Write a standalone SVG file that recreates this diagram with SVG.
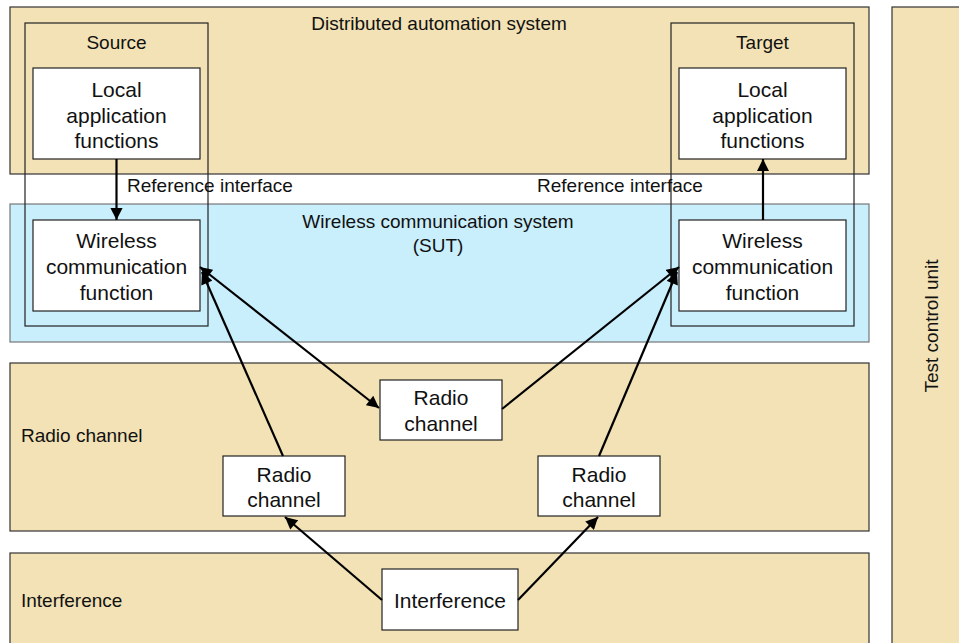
<svg xmlns="http://www.w3.org/2000/svg" width="959" height="643" viewBox="0 0 959 643">
<style>
.panel{fill:#f2e2b5;stroke:#333;stroke-width:1.2}
.blue{fill:#c9eefc;stroke:#777;stroke-width:1.2}
.frame{fill:none;stroke:#222;stroke-width:1.2}
.box{fill:#fff;stroke:#222;stroke-width:1.2}
.lbl{font-family:"Liberation Sans",Arial,sans-serif;font-size:19px;fill:#111}
.bt{font-family:"Liberation Sans",Arial,sans-serif;font-size:21px;fill:#111;text-anchor:middle}
.mid{text-anchor:middle}
.conn line{stroke:#000;stroke-width:2.2}
</style>
<defs>
<marker id="ah" viewBox="0 0 10 10" refX="10" refY="5" markerWidth="6" markerHeight="5.5" orient="auto-start-reverse" markerUnits="strokeWidth">
<path d="M0,0 L10,5 L0,10 z" fill="#000"/>
</marker>
</defs>
<g id="panel-das">
<rect class="panel" x="10" y="7" width="859" height="167"/>
<text class="lbl mid" x="439" y="30">Distributed automation system</text>
</g>
<g id="panel-wcs">
<rect class="blue" x="10" y="204" width="859" height="138"/>
<text class="lbl mid" x="438" y="228">Wireless communication system</text>
<text class="lbl mid" x="438" y="252">(SUT)</text>
</g>
<g id="panel-radio">
<rect class="panel" x="10" y="363" width="859" height="168"/>
<text class="lbl" x="21" y="442">Radio channel</text>
</g>
<g id="panel-interference">
<rect class="panel" x="10" y="553" width="859" height="100"/>
<text class="lbl" x="21" y="607">Interference</text>
</g>
<g id="panel-test">
<rect class="panel" x="892" y="7" width="80" height="650"/>
<text class="lbl mid" transform="translate(938,326) rotate(-90)">Test control unit</text>
</g>
<g id="source">
<rect class="frame" x="25" y="23" width="183" height="303"/>
<text class="lbl mid" x="116.5" y="49">Source</text>
</g>
<g id="target">
<rect class="frame" x="671" y="23" width="183" height="303"/>
<text class="lbl mid" x="762.5" y="49">Target</text>
</g>
<g id="src-local">
<rect class="box" x="33" y="68" width="167" height="91"/>
<text class="bt" x="116.5" y="97">Local</text>
<text class="bt" x="116.5" y="122.5">application</text>
<text class="bt" x="116.5" y="148">functions</text>
</g>
<g id="tgt-local">
<rect class="box" x="679" y="68" width="167" height="91"/>
<text class="bt" x="762.5" y="97">Local</text>
<text class="bt" x="762.5" y="122.5">application</text>
<text class="bt" x="762.5" y="148">functions</text>
</g>
<g id="ref-labels">
<text class="lbl" x="127" y="192">Reference interface</text>
<text class="lbl" x="537" y="192">Reference interface</text>
</g>
<g id="src-wireless">
<rect class="box" x="33" y="220" width="167" height="91"/>
<text class="bt" x="116.5" y="248">Wireless</text>
<text class="bt" x="116.5" y="274">communication</text>
<text class="bt" x="116.5" y="300">function</text>
</g>
<g id="tgt-wireless">
<rect class="box" x="679" y="220" width="167" height="91"/>
<text class="bt" x="762.5" y="248">Wireless</text>
<text class="bt" x="762.5" y="274">communication</text>
<text class="bt" x="762.5" y="300">function</text>
</g>
<g id="radio-center">
<rect class="box" x="380" y="380" width="122" height="60"/>
<text class="bt" x="441" y="405">Radio</text>
<text class="bt" x="441" y="431">channel</text>
</g>
<g id="radio-left">
<rect class="box" x="223" y="456" width="122" height="60"/>
<text class="bt" x="284" y="482">Radio</text>
<text class="bt" x="284" y="507">channel</text>
</g>
<g id="radio-right">
<rect class="box" x="538" y="456" width="122" height="60"/>
<text class="bt" x="599" y="482">Radio</text>
<text class="bt" x="599" y="507">channel</text>
</g>
<g id="interference">
<rect class="box" x="382" y="569" width="136" height="61"/>
<text class="bt" x="450" y="608">Interference</text>
</g>
<g id="connectors" class="conn">
<line x1="116.5" y1="159" x2="116.5" y2="220" marker-end="url(#ah)"/>
<line x1="763" y1="220" x2="763" y2="159" marker-end="url(#ah)"/>
<line x1="200" y1="267" x2="379" y2="408" marker-start="url(#ah)" marker-end="url(#ah)"/>
<line x1="283" y1="456" x2="202" y2="272" marker-end="url(#ah)"/>
<line x1="502" y1="409" x2="679" y2="267" marker-end="url(#ah)"/>
<line x1="599" y1="456" x2="677" y2="272" marker-end="url(#ah)"/>
<line x1="382" y1="600" x2="285" y2="517" marker-end="url(#ah)"/>
<line x1="518" y1="600" x2="598" y2="517" marker-end="url(#ah)"/>
</g>
</svg>
